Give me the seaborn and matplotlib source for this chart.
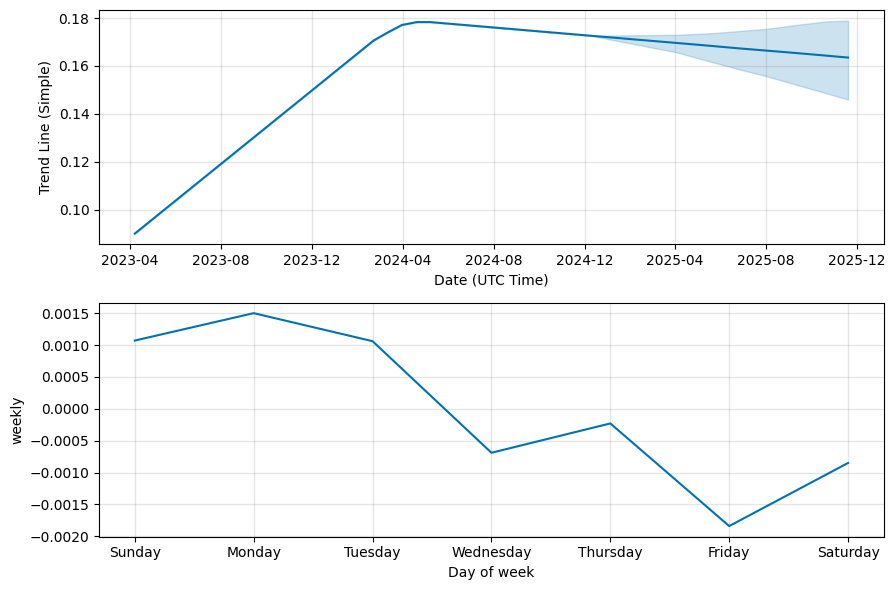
import pandas as pd
import matplotlib
matplotlib.use("Agg")
import matplotlib.pyplot as plt
import matplotlib.dates as mdates
import seaborn as sns

# trend component (piecewise linear) with forecast uncertainty
trend_dates = ["2023-04-08", "2024-02-22", "2024-03-11", "2024-03-31", "2024-04-20",
               "2024-05-08", "2024-12-09", "2025-04-03", "2025-05-22", "2025-06-27",
               "2025-08-02", "2025-09-10", "2025-10-21", "2025-11-19"]
trend_vals = [0.0901, 0.1706, 0.1738, 0.1771, 0.1783,
              0.1783, 0.1726, 0.1696, 0.1683, 0.1673,
              0.1664, 0.1654, 0.1643, 0.1635]
trend_upper = [0.0901, 0.1706, 0.1738, 0.1771, 0.1783,
               0.1783, 0.1726, 0.1730, 0.1737, 0.1746,
               0.1755, 0.1771, 0.1786, 0.1789]
trend_lower = [0.0901, 0.1706, 0.1738, 0.1771, 0.1783,
               0.1783, 0.1726, 0.1657, 0.1615, 0.1585,
               0.1557, 0.1522, 0.1486, 0.1460]

# weekly seasonality
days = ["Sunday", "Monday", "Tuesday", "Wednesday", "Thursday", "Friday", "Saturday"]
weekly_vals = [0.00107, 0.00150, 0.00106, -0.00069, -0.00023, -0.00184, -0.00085]

color = "#0072B2"

trend_df = pd.DataFrame({
    "ds": pd.to_datetime(trend_dates),
    "trend": trend_vals,
    "upper": trend_upper,
    "lower": trend_lower,
})
weekly_df = pd.DataFrame({"day": range(len(days)), "weekly": weekly_vals})

fig, axes = plt.subplots(2, 1, figsize=(9, 6), dpi=100)

ax = axes[0]
sns.lineplot(data=trend_df, x="ds", y="trend", ax=ax, color=color, lw=1.5)
ax.fill_between(trend_df["ds"], trend_df["lower"], trend_df["upper"], color=color, alpha=0.2)
ax.grid(True, which="major", c="gray", ls="-", lw=1, alpha=0.2)
ax.set_xlabel("Date (UTC Time)")
ax.set_ylabel("Trend Line (Simple)")
ax.xaxis.set_major_locator(mdates.MonthLocator(bymonth=[4, 8, 12]))
ax.xaxis.set_major_formatter(mdates.DateFormatter("%Y-%m"))

ax = axes[1]
sns.lineplot(data=weekly_df, x="day", y="weekly", ax=ax, color=color, lw=1.5)
ax.grid(True, which="major", c="gray", ls="-", lw=1, alpha=0.2)
ax.set_xticks(range(len(days)))
ax.set_xticklabels(days)
ax.set_xlabel("Day of week")
ax.set_ylabel("weekly")

fig.tight_layout()
fig.savefig("out.png", bbox_inches="tight")
